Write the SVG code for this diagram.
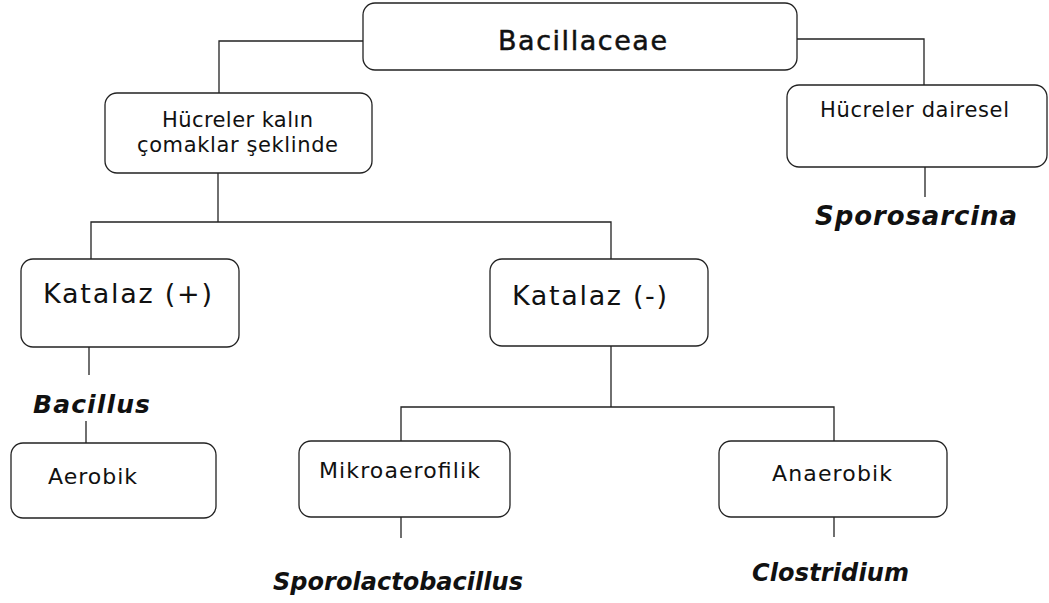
<svg xmlns="http://www.w3.org/2000/svg" width="1049" height="603" viewBox="0 0 1049 603">
<style>
.box{fill:#fff;stroke:#222;stroke-width:1.3}
.ln{fill:none;stroke:#222;stroke-width:1.3}
.t{font-family:"DejaVu Sans","Verdana",sans-serif;fill:#111}
.g{font-family:"DejaVu Sans","Verdana",sans-serif;font-style:italic;font-weight:bold;fill:#111}
</style>
<rect width="1049" height="603" fill="#fff"/>
<g id="connectors">
<path class="ln" d="M363,41 H219 V93"/>
<path class="ln" d="M797,39 H924 V85"/>
<path class="ln" d="M218,173 V222"/>
<path class="ln" d="M91,259 V222 H611 V259"/>
<path class="ln" d="M89,347 V375"/>
<path class="ln" d="M86,421 V443"/>
<path class="ln" d="M611,346 V407"/>
<path class="ln" d="M401,441 V407 H834 V441"/>
<path class="ln" d="M401,517 V538"/>
<path class="ln" d="M834,517 V537"/>
<path class="ln" d="M925,167 V197"/>
</g>
<g id="bacillaceae">
<rect class="box" x="363" y="3" width="434" height="67" rx="12"/>
<text class="t" x="498" y="50" font-size="27" stroke="#111" stroke-width="0.5" textLength="169" lengthAdjust="spacing">Bacillaceae</text>
</g>
<g id="kalin">
<rect class="box" x="105" y="93" width="267" height="80" rx="12"/>
<text class="t" x="162" y="127" font-size="21" textLength="151" lengthAdjust="spacing">Hücreler kalın</text>
<text class="t" x="137" y="152" font-size="21" textLength="201" lengthAdjust="spacing">çomaklar şeklinde</text>
</g>
<g id="dairesel">
<rect class="box" x="787" y="85" width="260" height="82" rx="12"/>
<text class="t" x="820" y="117" font-size="21" textLength="189" lengthAdjust="spacing">Hücreler dairesel</text>
</g>
<g id="sporosarcina">
<text class="g" x="815" y="225" font-size="26" textLength="202" lengthAdjust="spacing">Sporosarcina</text>
</g>
<g id="katalaz-pos">
<rect class="box" x="21" y="259" width="218" height="88" rx="12"/>
<text class="t" x="43" y="303" font-size="27" textLength="169" lengthAdjust="spacing">Katalaz (+)</text>
</g>
<g id="katalaz-neg">
<rect class="box" x="490" y="259" width="218" height="87" rx="12"/>
<text class="t" x="512" y="305" font-size="27" textLength="155" lengthAdjust="spacing">Katalaz (-)</text>
</g>
<g id="bacillus">
<text class="g" x="33" y="413" font-size="25" textLength="117" lengthAdjust="spacing">Bacillus</text>
</g>
<g id="aerobik">
<rect class="box" x="11" y="443" width="205" height="75" rx="12"/>
<text class="t" x="48" y="484" font-size="22" textLength="89" lengthAdjust="spacing">Aerobik</text>
</g>
<g id="mikroaerofilik">
<rect class="box" x="299" y="441" width="211" height="76" rx="12"/>
<text class="t" x="319" y="478" font-size="22" textLength="161" lengthAdjust="spacing">Mikroaerofilik</text>
</g>
<g id="anaerobik">
<rect class="box" x="719" y="441" width="228" height="76" rx="12"/>
<text class="t" x="772" y="481" font-size="22" textLength="120" lengthAdjust="spacing">Anaerobik</text>
</g>
<g id="sporolactobacillus">
<text class="g" x="273" y="590" font-size="24" textLength="250" lengthAdjust="spacing">Sporolactobacillus</text>
</g>
<g id="clostridium">
<text class="g" x="752" y="581" font-size="24" textLength="157" lengthAdjust="spacing">Clostridium</text>
</g>
</svg>
